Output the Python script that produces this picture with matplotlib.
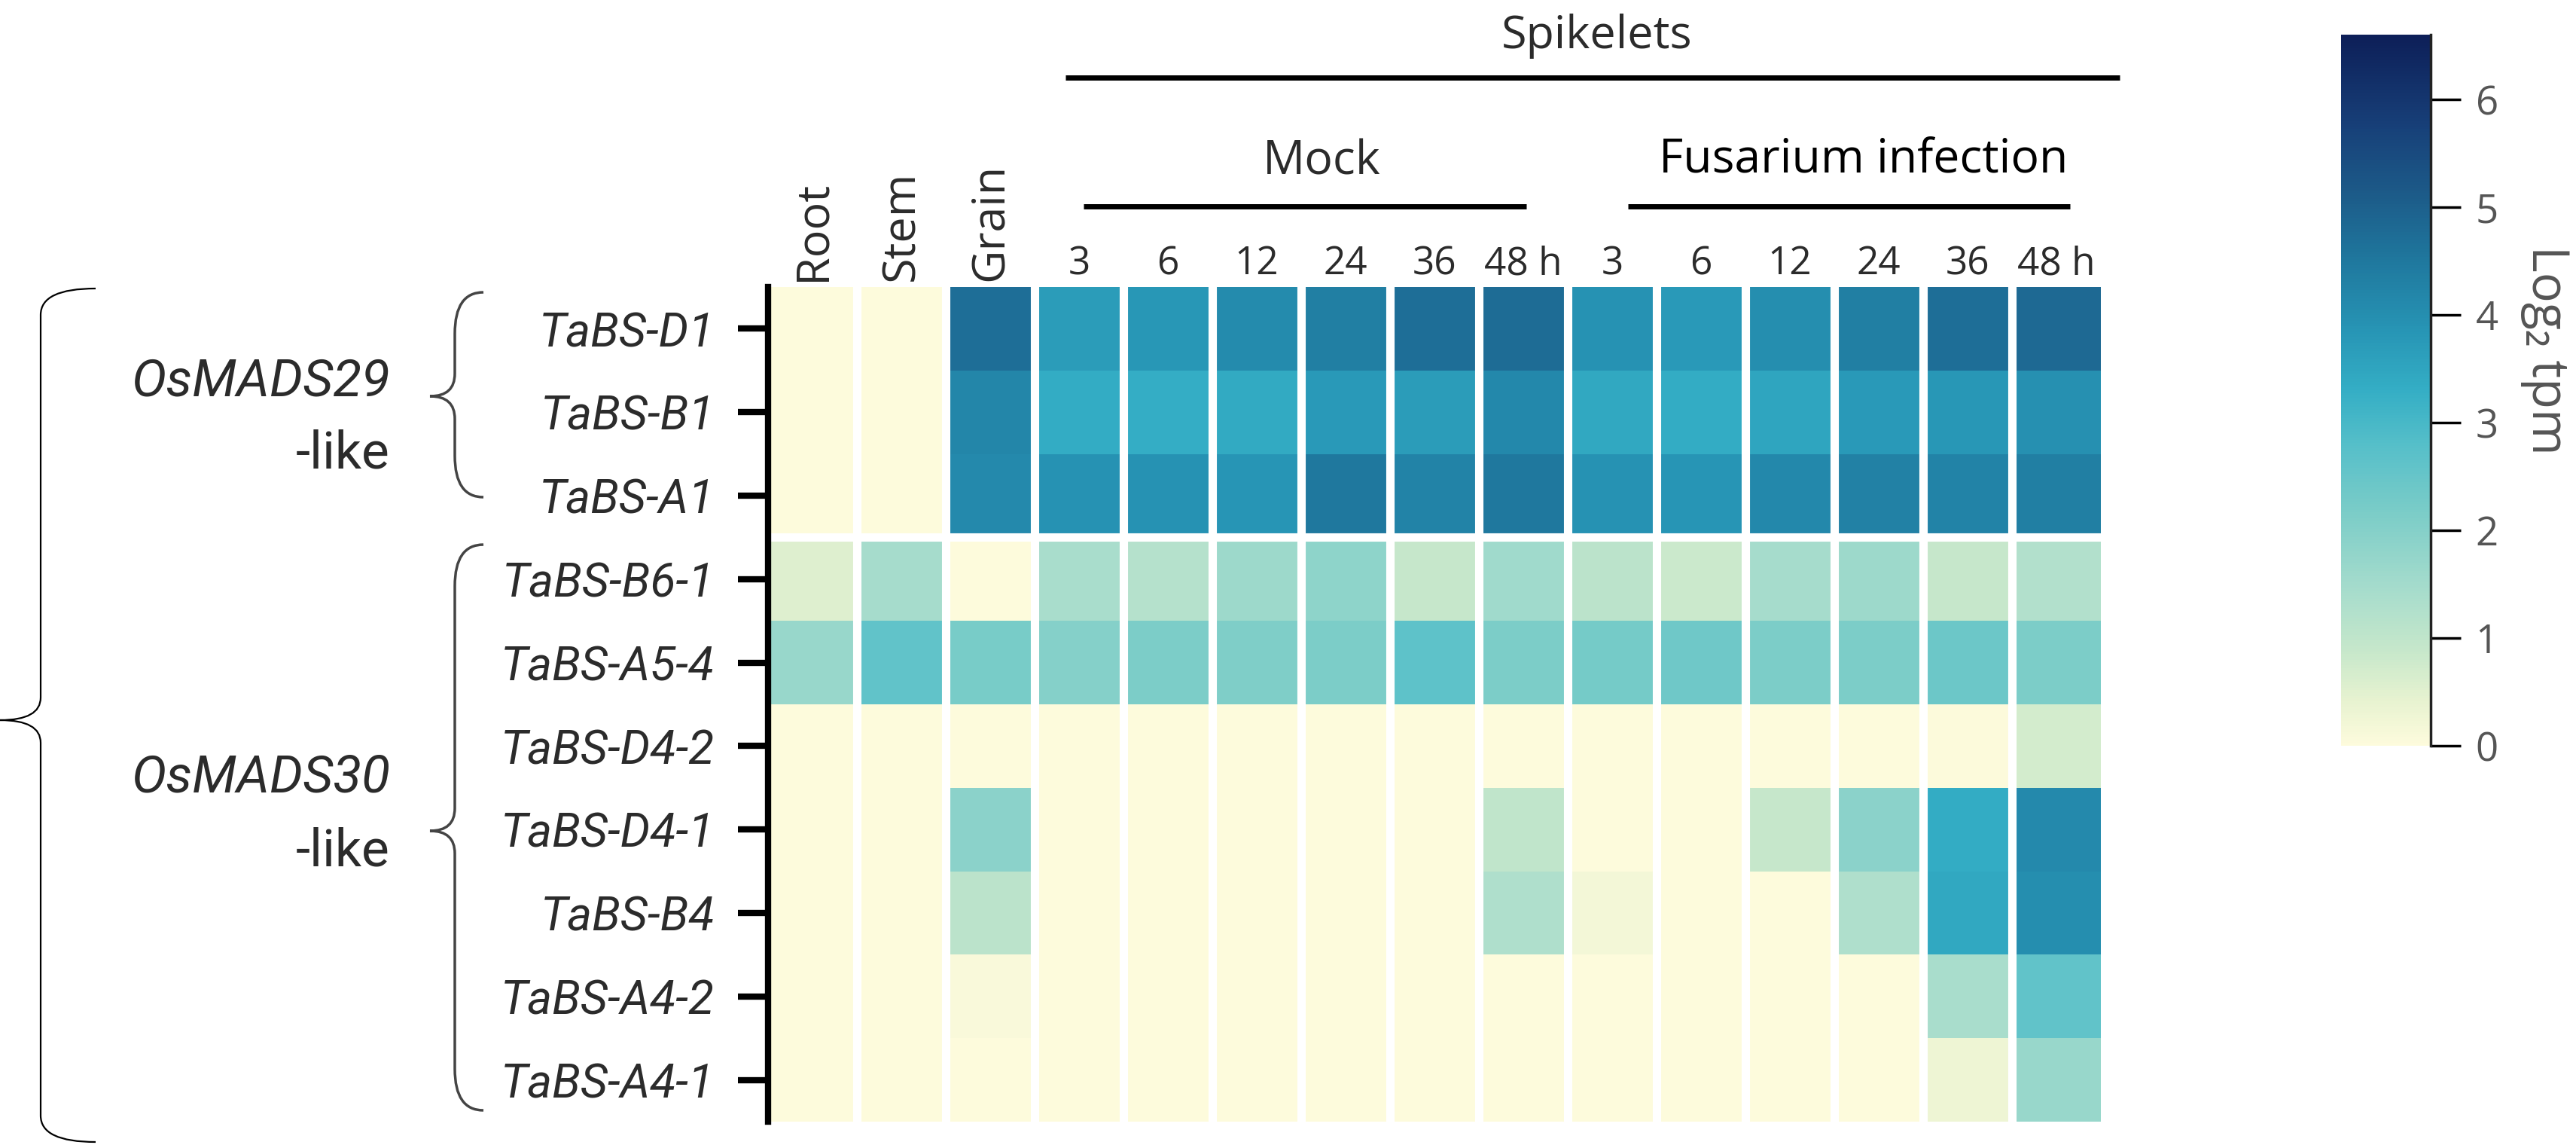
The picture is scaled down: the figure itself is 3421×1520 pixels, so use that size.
import numpy as np
import matplotlib
matplotlib.use('Agg')
import matplotlib.pyplot as plt
from matplotlib.colors import LinearSegmentedColormap
from matplotlib.path import Path
from matplotlib.patches import PathPatch

# ---- data (log2 tpm) ----
tissues = ['Root', 'Stem', 'Grain']
hours = ['3', '6', '12', '24', '36', '48 h']
genes = ['TaBS-D1', 'TaBS-B1', 'TaBS-A1', 'TaBS-B6-1', 'TaBS-A5-4',
         'TaBS-D4-2', 'TaBS-D4-1', 'TaBS-B4', 'TaBS-A4-2', 'TaBS-A4-1']

#             Root Stem Grain  Mock 3    6    12   24   36   48   Fus 3    6    12   24   36   48
ta_bs_d1   = [0.0, 0.0, 4.7,   3.7, 3.8, 4.05, 4.35, 4.7, 4.75,  3.9, 3.75, 4.0, 4.35, 4.7, 4.8]
ta_bs_b1   = [0.0, 0.0, 4.2,   3.35, 3.3, 3.4, 3.75, 3.7, 4.15,  3.45, 3.35, 3.5, 3.75, 3.8, 3.95]
ta_bs_a1   = [0.0, 0.0, 4.1,   3.9, 3.9, 3.85, 4.5, 4.25, 4.5,   3.9, 3.85, 4.15, 4.3, 4.25, 4.35]
ta_bs_b6_1 = [0.55, 1.45, 0.0, 1.4, 1.2, 1.6, 1.85, 0.9, 1.55,   1.1, 0.8, 1.45, 1.6, 0.9, 1.25]
ta_bs_a5_4 = [1.7, 2.6, 2.2,   2.0, 2.15, 2.1, 2.15, 2.65, 2.15, 2.25, 2.35, 2.15, 2.15, 2.4, 2.15]
ta_bs_d4_2 = [0.0, 0.0, 0.0,   0.0, 0.0, 0.0, 0.0, 0.0, 0.0,     0.0, 0.0, 0.0, 0.0, 0.05, 0.7]
ta_bs_d4_1 = [0.0, 0.0, 1.9,   0.0, 0.0, 0.0, 0.0, 0.0, 1.0,     0.0, 0.0, 0.9, 1.9, 3.35, 4.1]
ta_bs_b4   = [0.0, 0.0, 1.1,   0.0, 0.0, 0.0, 0.0, 0.0, 1.3,     0.2, 0.0, 0.0, 1.3, 3.45, 4.0]
ta_bs_a4_2 = [0.0, 0.0, 0.1,   0.0, 0.0, 0.0, 0.0, 0.0, 0.0,     0.0, 0.0, 0.0, 0.0, 1.4, 2.6]
ta_bs_a4_1 = [0.0, 0.0, 0.0,   0.0, 0.0, 0.0, 0.0, 0.0, 0.0,     0.0, 0.0, 0.0, 0.0, 0.3, 1.7]

expr = np.array([ta_bs_d1, ta_bs_b1, ta_bs_a1, ta_bs_b6_1, ta_bs_a5_4,
                 ta_bs_d4_2, ta_bs_d4_1, ta_bs_b4, ta_bs_a4_2, ta_bs_a4_1])
col_labels = tissues + hours + hours

# colour scale sampled from the legend bar
VMAX = 6.6
cbar_vals = [0.0, 0.43, 0.85, 1.5, 2.14, 2.78, 3.3, 3.85, 4.5, 5.14, 5.78, 6.6]
cbar_cols = ['#fdfbdc', '#e6f2d0', '#c8e8cb', '#a3dbcc', '#7ccdc8', '#56bfc9',
             '#34aec5', '#2795b5', '#1f789e', '#1c5a88', '#173f78', '#0d1f58']
cmap = LinearSegmentedColormap.from_list(
    'tpm', [(v / VMAX, c) for v, c in zip(cbar_vals, cbar_cols)])

W, H = 3421, 1520
SANS = ['Open Sans', 'DejaVu Sans']
LBL = ['Roboto', 'DejaVu Sans']
TXT = '#2b2b2b'


def fx(px):
    return px / W


def fy(py):
    return 1 - py / H


def brace(ax, x_end, x_mid, x_tip, y0, y1, y_tip, r_end, r_tip, **kw):
    """left pointing curly brace, pixel coords (y down)"""
    verts = [(x_end, y0), (x_mid, y0), (x_mid, y0 + r_end),
             (x_mid, y_tip - r_tip),
             (x_mid, y_tip), (x_tip, y_tip),
             (x_mid, y_tip), (x_mid, y_tip + r_tip),
             (x_mid, y1 - r_end),
             (x_mid, y1), (x_end, y1)]
    codes = [Path.MOVETO, Path.CURVE3, Path.CURVE3, Path.LINETO,
             Path.CURVE3, Path.CURVE3, Path.CURVE3, Path.CURVE3,
             Path.LINETO, Path.CURVE3, Path.CURVE3]
    ax.add_patch(PathPatch(Path(verts, codes), fill=False, **kw))


fig = plt.figure(figsize=(W / 100, H / 100), dpi=100)

# heatmap
ax = fig.add_axes([fx(1020), fy(1489), fx(2790) - fx(1020), fy(381) - fy(1489)])
mesh = ax.pcolormesh(np.arange(expr.shape[1] + 1), np.arange(expr.shape[0] + 1), expr,
                     cmap=cmap, vmin=0, vmax=VMAX)
ax.set_xlim(0, expr.shape[1])
ax.set_ylim(expr.shape[0], 0)
for i in range(1, expr.shape[1]):
    ax.axvline(i, color='white', lw=8)
ax.axhline(3, color='white', lw=8)

ax.set_xticks([])
ax.set_yticks(np.arange(len(genes)) + 0.5)
ax.set_yticklabels(genes, family=LBL, style='italic', fontsize=45, color=TXT)
ax.tick_params(axis='y', length=29, width=6, pad=22, color='black')
for s in ['top', 'right', 'bottom']:
    ax.spines[s].set_visible(False)
ax.spines['left'].set_linewidth(6)

# column headers
for i, lab in enumerate(col_labels):
    if i < len(tissues):
        ax.text(i + 0.5, -0.07, lab, rotation=90, ha='center', va='bottom',
                fontsize=44, family=SANS, color=TXT, clip_on=False)
    else:
        ax.text(i + 0.5, -0.15, lab, ha='center', va='baseline',
                fontsize=37, family=SANS, color=TXT, clip_on=False)

# colorbar
cax = fig.add_axes([fx(3109), fy(990), fx(3228) - fx(3109), fy(46) - fy(990)])
cb = fig.colorbar(mesh, cax=cax, ticks=range(7))
cb.outline.set_visible(False)
cax.tick_params(length=29, width=2.5, labelsize=38, labelcolor='#555555', pad=14)
for lab in cax.get_yticklabels():
    lab.set_family(SANS)

# overlay in pixel coordinates
ov = fig.add_axes([0, 0, 1, 1])
ov.set_xlim(0, W)
ov.set_ylim(H, 0)
ov.axis('off')

ov.plot([3228, 3228], [46, 990], color='#222222', lw=2.5)
ov.text(3381, 465, 'Log\u2082 tpm', rotation=-90, ha='center', va='center',
        fontsize=48, family=SANS, color='#555555')

ov.text(2121, 48, 'Spikelets', ha='center', va='center', fontsize=44, family=SANS, color=TXT)
ov.plot([1415, 2815], [103, 103], color='black', lw=5, solid_capstyle='butt')
ov.text(1755, 215, 'Mock', ha='center', va='center', fontsize=45, family=SANS, color=TXT)
ov.plot([1439, 2027], [274, 274], color='black', lw=5, solid_capstyle='butt')
ov.text(2475, 212, 'Fusarium infection', ha='center', va='center', fontsize=45,
        family=SANS, color='black')
ov.plot([2162, 2749], [274, 274], color='black', lw=5, solid_capstyle='butt')

# gene family groups
ov.text(518, 507, 'OsMADS29', ha='right', va='center', fontsize=50, family=LBL,
        style='italic', color=TXT)
ov.text(518, 603, '-like', ha='right', va='center', fontsize=50, family=LBL, color=TXT)
ov.text(518, 1033, 'OsMADS30', ha='right', va='center', fontsize=50, family=LBL,
        style='italic', color=TXT)
ov.text(518, 1131, '-like', ha='right', va='center', fontsize=50, family=LBL, color=TXT)

brace(ov, 642, 604, 571, 388, 660, 526, 55, 30, color='#444444', lw=2.5)
brace(ov, 642, 604, 571, 723, 1474, 1103, 55, 30, color='#444444', lw=2.5)
brace(ov, 127, 54, 0, 383, 1516, 956, 35, 30, color='black', lw=1.6)

fig.savefig('out.png', dpi=100)
